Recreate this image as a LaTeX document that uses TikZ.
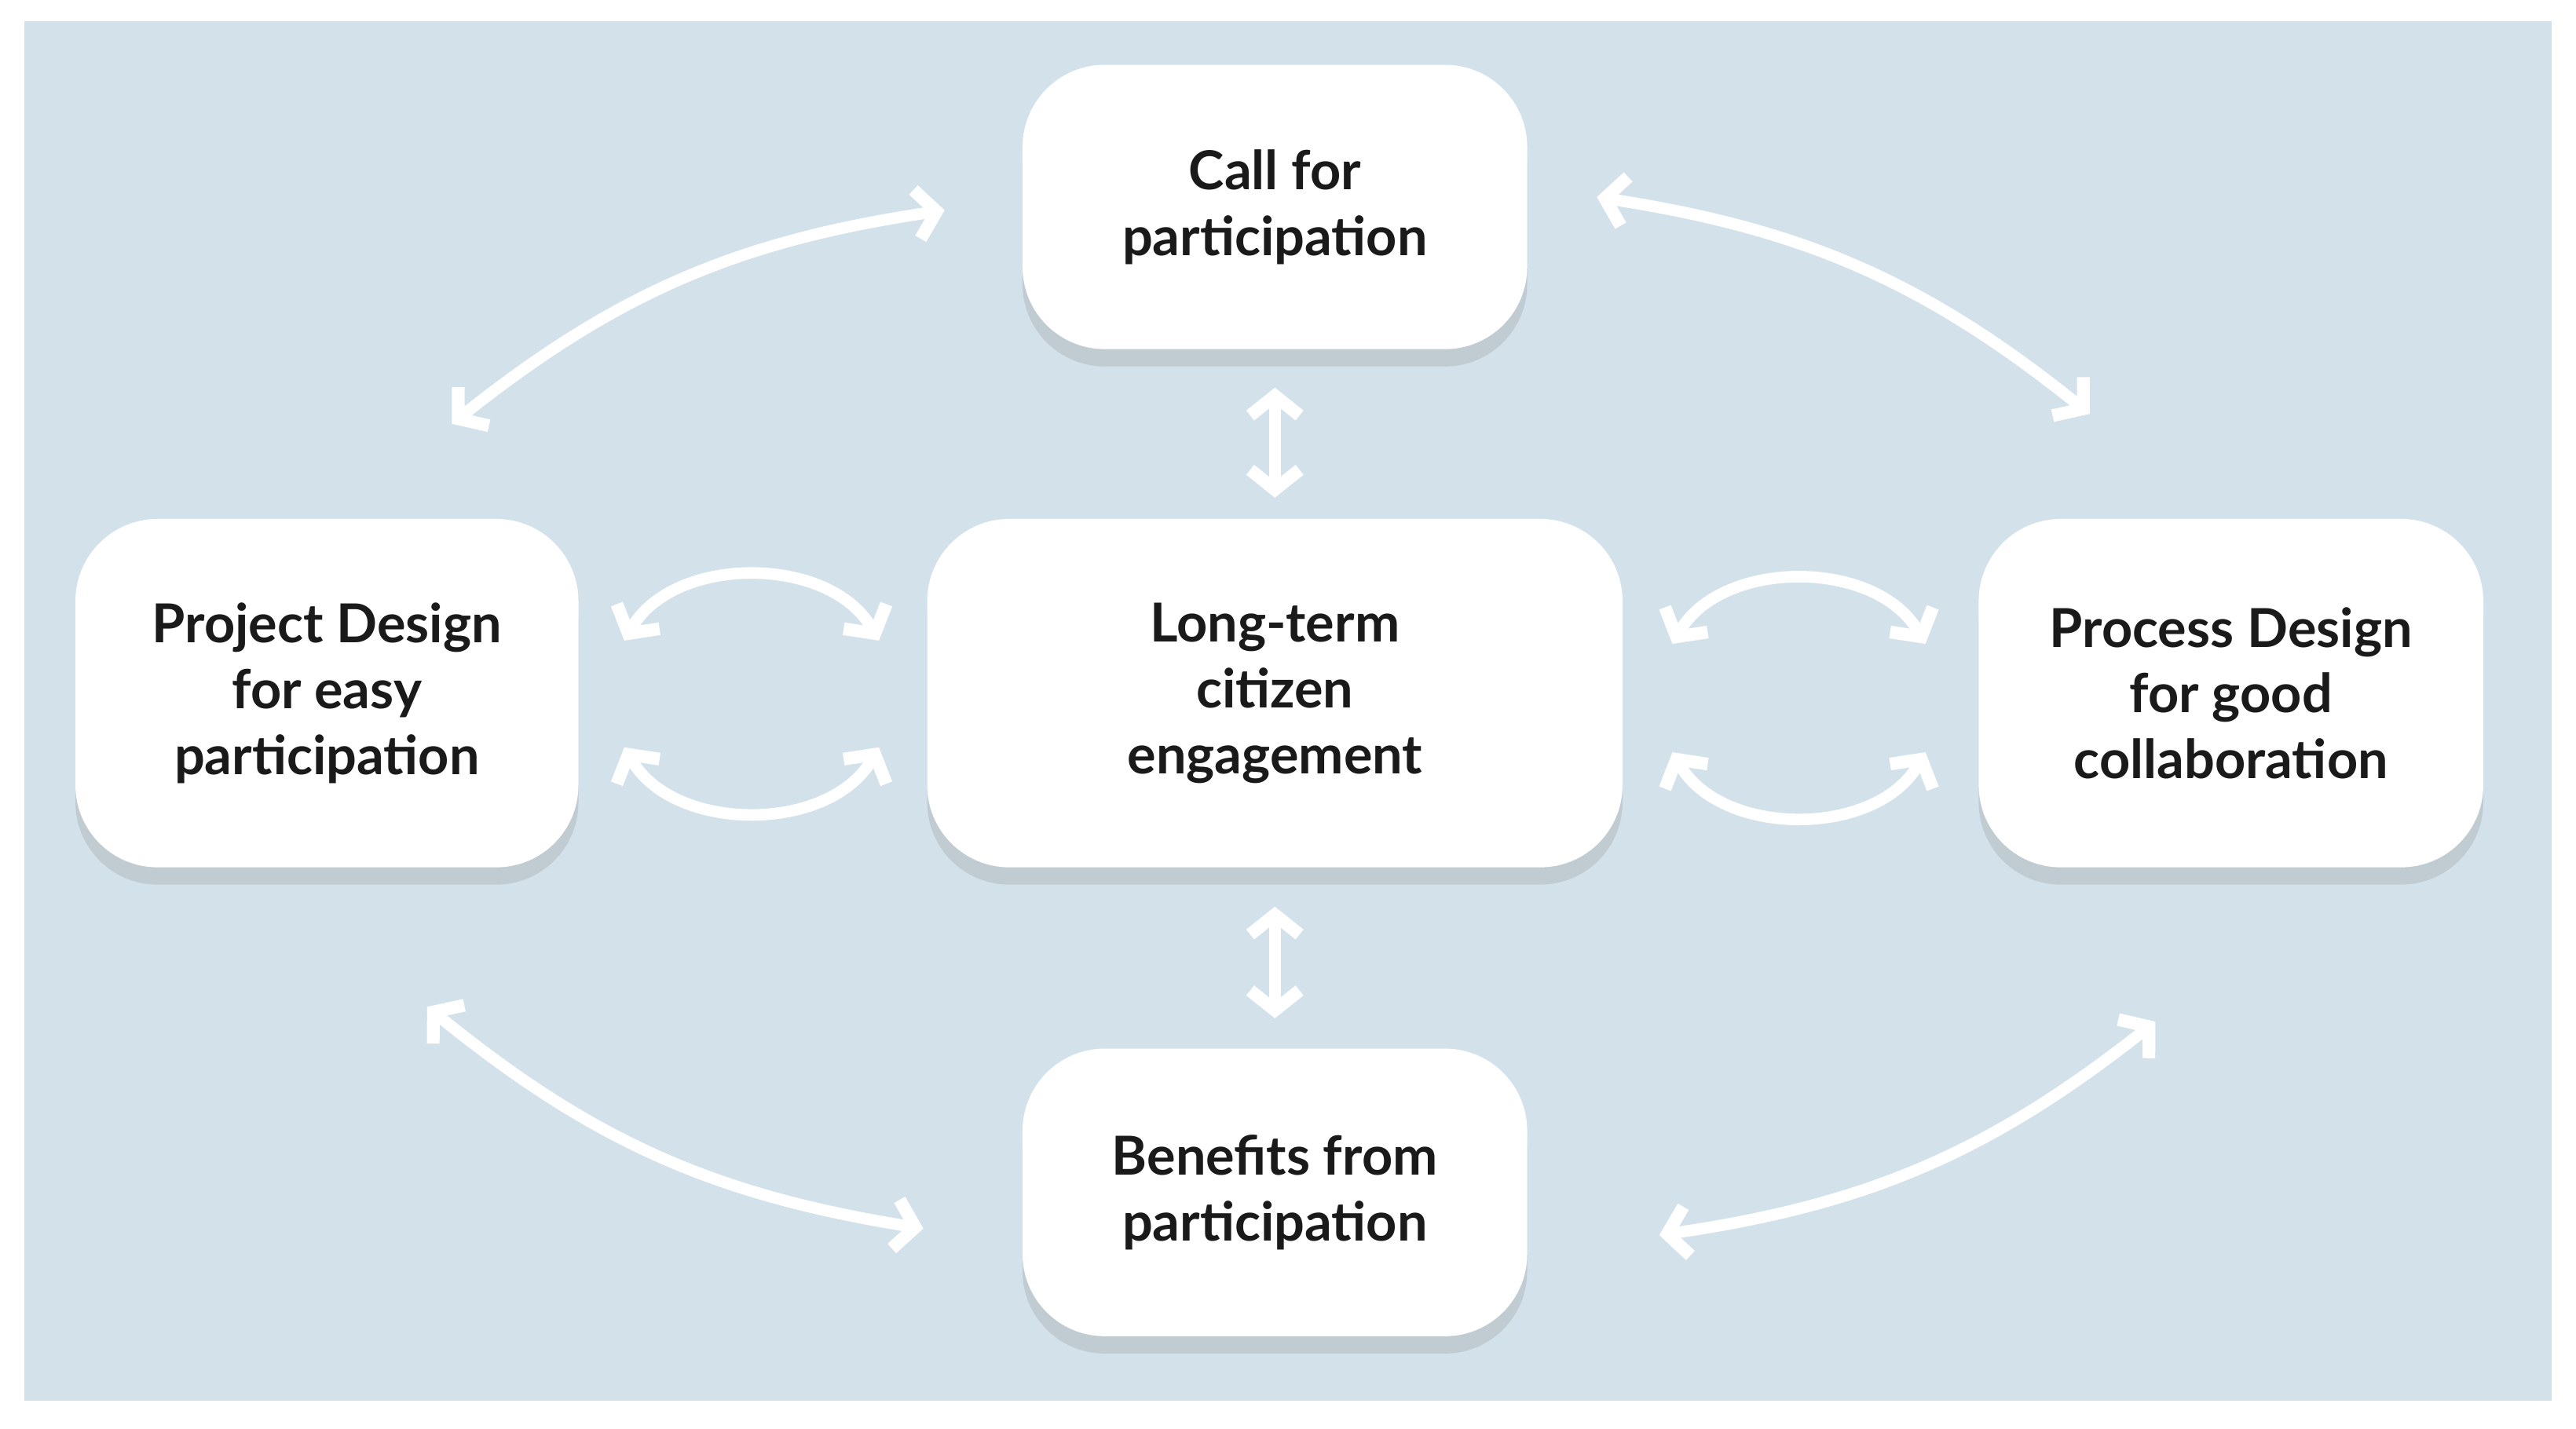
\documentclass[tikz,border=0pt]{standalone}
\usepackage{fontspec}
\setmainfont{Lato}
\usetikzlibrary{arrows.meta,shadows}
\definecolor{bg}{HTML}{D3E2EA}
\definecolor{txt}{HTML}{1A1A1A}
\begin{document}
\begin{tikzpicture}[x=0.01cm,y=-0.01cm,
  box/.style={fill=white,rounded corners=0.5cm,draw=none,align=center,
    font=\fontsize{9.3}{11.4}\selectfont\bfseries,text=txt,
    drop shadow={shadow xshift=0pt,shadow yshift=-3pt,opacity=0.25,fill=black!45}},
  arr/.style={draw=white,line width=2pt,
    {Straight Barb[length=0.12cm,width=0.3cm,line width=2.2pt]}-{Straight Barb[length=0.12cm,width=0.3cm,line width=2.2pt]}}]
\useasboundingbox (0,0) rectangle (1568,869.6);
\fill[white] (0,0) rectangle (1568,869.6);
\fill[bg] (15,13) rectangle (1553,853);
\node[box,minimum width=3.07cm,minimum height=1.73cm] (call) at (776,126) {Call for\\participation};
\node[box,minimum width=4.23cm,minimum height=2.12cm] (long) at (776,422) {Long-term\\citizen\\engagement};
\node[box,minimum width=3.06cm,minimum height=2.12cm] (proj) at (199,422) {Project Design\\for easy\\participation};
\node[box,minimum width=3.07cm,minimum height=2.12cm] (proc) at (1358,422) {Process Design\\for good\\collaboration};
\node[box,minimum width=3.07cm,minimum height=1.75cm] (ben) at (776,726) {Benefits from\\participation};
\coordinate (a1) at (275,258); \coordinate (a2) at (575,128);
\coordinate (b1) at (972,120); \coordinate (b2) at (1272,252);
\coordinate (c1) at (776,236); \coordinate (c2) at (776,303);
\coordinate (d1) at (776,552); \coordinate (d2) at (776,620);
\coordinate (e1) at (380,390); \coordinate (e2) at (535,390);
\coordinate (f1) at (380,455); \coordinate (f2) at (535,455);
\coordinate (g1) at (1018,392); \coordinate (g2) at (1172,392);
\coordinate (h1) at (1018,458); \coordinate (h2) at (1172,458);
\coordinate (i1) at (260,613); \coordinate (i2) at (562,748);
\coordinate (j1) at (1010,752); \coordinate (j2) at (1312,622);
\draw[arr] (a1) to[bend left=15] (a2);
\draw[arr] (b1) to[bend left=15] (b2);
\draw[arr] (c1) -- (c2);
\draw[arr] (d1) -- (d2);
\draw[arr] (e1) to[bend left=60] (e2);
\draw[arr] (f1) to[bend right=60] (f2);
\draw[arr] (g1) to[bend left=60] (g2);
\draw[arr] (h1) to[bend right=60] (h2);
\draw[arr] (i1) to[bend right=15] (i2);
\draw[arr] (j1) to[bend right=15] (j2);
\end{tikzpicture}
\end{document}
